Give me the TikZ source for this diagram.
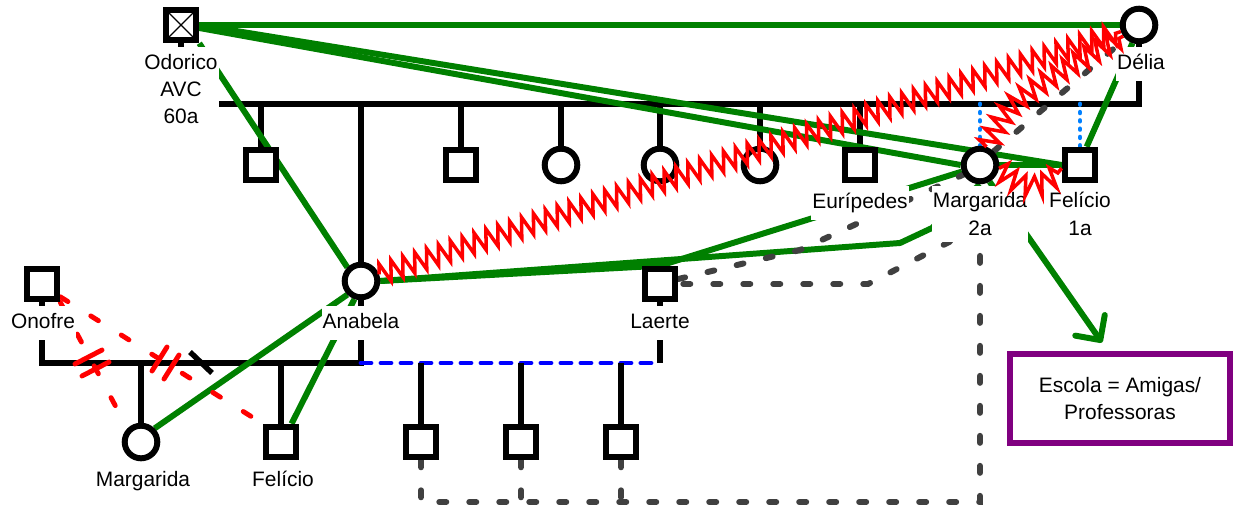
\documentclass[tikz,border=0pt]{standalone}
\usepackage{fontspec}
\setmainfont{Liberation Sans}
\usetikzlibrary{arrows.meta,backgrounds,calc,decorations.pathmorphing}
\definecolor{tiegreen}{RGB}{0,128,0}
\definecolor{cutgrey}{RGB}{64,64,64}
\definecolor{halfblue}{RGB}{0,128,255}
\definecolor{schoolpurple}{RGB}{128,0,128}
\def\lblfont{\fontsize{11.9}{15.6}\selectfont}
\tikzset{
  male/.style={draw, rectangle, fill=white, line width=3.4pt, minimum size=0.612cm, inner sep=0pt},
  female/.style={draw, circle, fill=white, line width=3.4pt, minimum size=0.652cm, inner sep=0pt},
  lbl/.style={fill=white, font=\lblfont, inner xsep=0.02cm, inner ysep=0.13cm, text height=0.315cm, text depth=0.09cm},
  lbls/.style={fill=white, font=\lblfont, inner xsep=0.02cm, inner ysep=0.13cm, align=center},
  kinline/.style={line width=3.1pt},
  greentie/.style={tiegreen, line width=3.4pt},
  conflict/.style={red, line width=2pt, decorate, decoration={zigzag, amplitude=0.2cm, segment length=0.25cm}},
  cutline/.style={cutgrey, line width=3.4pt, line cap=round, dash pattern=on 0.14cm off 0.46cm},
  reddash/.style={red, line width=2.8pt, line cap=round, dash pattern=on 0.18cm off 0.54cm},
  bluedash/.style={blue, line width=2.8pt, line cap=round, dash pattern=on 0.2cm off 0.2cm},
  bluedot/.style={halfblue, line width=2.8pt, line cap=round, dash pattern=on 0.01cm off 0.156cm},
  schoolbox/.style={draw=schoolpurple, line width=3.4pt, minimum width=4.39cm, minimum height=1.78cm, align=center, font=\lblfont}
}

\begin{document}
\begin{tikzpicture}[x=0.02cm, y=-0.02cm]
	%%%%% START %%%%%
	\useasboundingbox (0,0) rectangle (1239,510);
	\coordinate (sibs) at (0,104);
	\coordinate (wed) at (0,363);
	
	\node[male] (odorico) at (181,25) {};
	\draw[line width=0.7pt] ($(odorico)+(-13,-13)$) -- ($(odorico)+(13,13)$) ($(odorico)+(13,-13)$) -- ($(odorico)+(-13,13)$);
	\node[female] (delia) at (1139,25) {};
	
	\node[male] (c1) at (261,165) {};
	\node[female] (anabela) at (361,281) {};
	\node[male] (c3) at (461,165) {};
	\node[female] (c4) at (561,165) {};
	\node[female] (c5) at (660,165) {};
	\node[female] (c6) at (760,165) {};
	\node[male] (euripedes) at (860,165) {};
	\node[female] (marg2) at (980,165) {};
	\node[male] (felicio1) at (1080,165) {};
	
	\node[male] (onofre) at (42,284) {};
	\node[male] (laerte) at (660,284) {};
	\node[female] (margarida) at (141,442) {};
	\node[male] (felicio) at (281,442) {};
	\node[male] (g1) at (421,442) {};
	\node[male] (g2) at (521,442) {};
	\node[male] (g3) at (621,442) {};
	
	\node[schoolbox] (escola) at (1120,398.5) {Escola = Amigas/\\Professoras};
	
	\node[lbls] (odoricolbl) at (181,89) {Odorico\\AVC\\60a};
	\node[lbl] (delialbl) at (1141,64) {Délia};
	\node[lbl] (anabelalbl) at (361,323) {Anabela};
	\node[lbl] (euripedeslbl) at (860,203) {Eurípedes};
	\node[lbls] (marg2lbl) at (980,214) {Margarida\\2a};
	\node[lbls] (felicio1lbl) at (1080,214) {Felício\\1a};
	\node[lbl] (onofrelbl) at (43,323) {Onofre};
	\node[lbl] (laertelbl) at (660,323) {Laerte};
	\node[lbl] (margaridalbl) at (143,481) {Margarida};
	\node[lbl] (feliciolbl) at (283,481) {Felício};
	
	\begin{scope}[on background layer]
		\draw[kinline] (odorico.south) -- (odorico.south |- sibs) -- (delia.south |- sibs) -- (delia.south);
		\foreach \k in {c1,anabela,c3,c4,c5,c6,euripedes}
			\draw[kinline] (\k.north |- sibs) -- (\k.north);
		\draw[bluedot] (marg2.north |- sibs) -- (marg2.north);
		\draw[bluedot] (felicio1.north |- sibs) -- (felicio1.north);
		
		\draw[kinline] (onofre.south) -- (onofre.south |- wed) -- (anabela.south |- wed) -- (anabela.south);
		\draw[kinline] (margarida.north |- wed) -- (margarida.north);
		\draw[kinline] (felicio.north |- wed) -- (felicio.north);
		\draw[bluedash] (anabela.south |- wed) -- ([xshift=-0.1cm]laerte.south |- wed);
		\draw[kinline] (laerte.south) -- (laerte.south |- wed);
		\foreach \k in {g1,g2,g3}
			\draw[kinline] (\k.north |- wed) -- (\k.north);
		
		% green ties
		\draw[greentie] (odorico.east) -- (delia.west);
		\draw[greentie] (odorico.east) -- (felicio1.west);
		\draw[greentie] ([yshift=-0.06cm]odorico.east) -- (marg2.west);
		\draw[greentie] (odorico.south east) -- (anabela.north west);
		\draw[greentie] (delia.250) -- (felicio1.70);
		\draw[greentie] (marg2.east) -- (felicio1.west);
		\draw[greentie] (anabela.east) -- (laerte.north) -- (marg2.200);
		\draw[greentie] (anabela.east) -- (900,243) -- (932,228) -- (marg2.south);
		\draw[greentie] (anabela.south west) -- (margarida.north east);
		\draw[greentie] (anabela.250) -- (felicio.60);
		\draw[greentie, -{Straight Barb[length=0.36cm, width=0.72cm, round]}] (marg2.-60) -- ([xshift=-0.36cm, yshift=0.17cm]escola.north);
		
		% grey cut-offs
		\draw[cutline] ([yshift=0.1cm]laerte.east) -- (800,250) -- (marg2.210);
		\draw[cutline] ([xshift=0.1cm]laerte.east) -- (868,284) -- (980,226) -- (marg2.south);
		\draw[cutline] (g1.south) -- (421,502) -- (980,502) -- (marg2.south);
		\draw[cutline] (g2.south) -- (521,502);
		\draw[cutline] (g3.south) -- (621,502);
		\draw[cutline] (marg2.45) -- (delia.225);
		
		\draw[reddash] (onofre.-35) -- (felicio.north west);
		\draw[reddash] (onofre.south east) -- (margarida.north west);
	\end{scope}
	
	% conflicts
	\draw[conflict] (anabela.20) -- (delia.200);
	\draw[conflict] (marg2.70) .. controls (1010,100) .. (delia.215);
	\draw[conflict] (marg2.-10) .. controls (1025,195) and (1045,190) .. (felicio1.190);
	
	\draw[red, line width=2.8pt, line cap=round] (75,364) -- (102,350) (82,376) -- (109,362);
	\draw[red, line width=2.8pt, line cap=round] (152,371) -- (167,347) (164,379) -- (179,355);
	\draw[kinline] (190,352) -- (212,373);
	%%%%% END %%%%%
\end{tikzpicture}
\end{document}
